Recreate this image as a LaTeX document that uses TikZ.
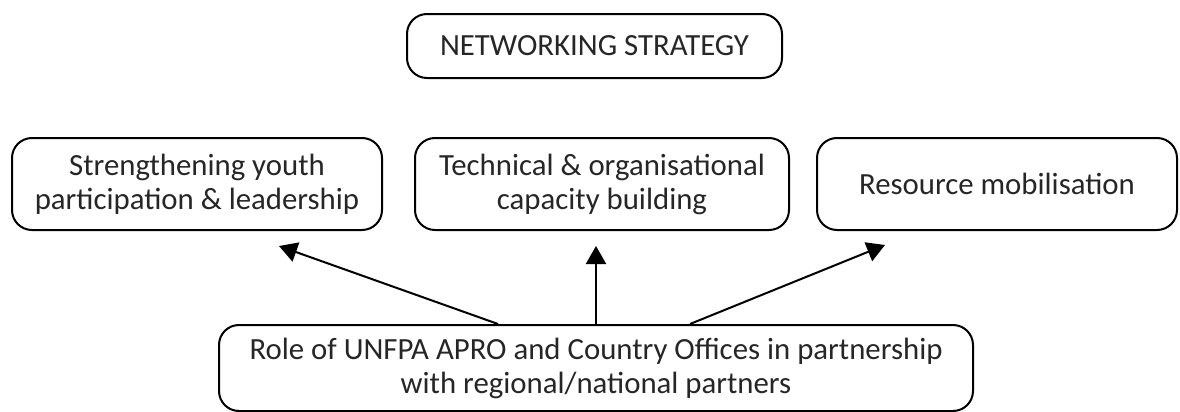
\documentclass[tikz,border=0pt]{standalone}
\usepackage{fontspec}
\setmainfont{Carlito}
\usepackage{xcolor}
\usetikzlibrary{arrows.meta}
\usetikzlibrary{calc}

\begin{document}
\begin{tikzpicture}[
        x=0.5pt, y=-0.5pt, % un pixel de la figura original
        font=\fontsize{15.4}{17}\selectfont,
        box/.style={draw, line width=1pt, rounded corners=10pt, align=center,
                    text=black!85, inner sep=0pt}, % Estilo para las cajas
        arrow/.style={-{Triangle[width=10pt,length=9pt]}, line width=1pt} % Estilo para las flechas
    ]
        % --- Marco de la figura ---
        \useasboundingbox (0,0) rectangle (1180,412);

        % --- Caja superior ---
        \node[box, minimum width=187.5pt, minimum height=32pt] (net) at (594.5,46) {NETWORKING STRATEGY};

        % --- Fila de cajas ---
        \node[box, minimum width=185pt, minimum height=46pt] (yth) at (197,184)
            {Strengthening youth\\participation \& leadership};
        \node[box, minimum width=187pt, minimum height=46pt] (cap) at (602,184)
            {Technical \& organisational\\capacity building};
        \node[box, minimum width=180pt, minimum height=46pt] (res) at (997,184)
            {Resource mobilisation};

        % --- Caja inferior ---
        \node[box, minimum width=377pt, minimum height=43pt] (role) at (596,368)
            {Role of UNFPA APRO and Country Offices in partnership\\with regional/national partners};

        % --- Flechas ---
        \coordinate (ythTip) at ($(yth.south)+(82,15)$);
        \coordinate (capTip) at ($(cap.south)+(-6,15)$);
        \coordinate (resTip) at ($(res.south)+(-112,14)$);
        \draw[arrow] ($(role.north)+(-98,0)$) -- (ythTip);
        \draw[arrow] ($(role.north)+(0,0)$) -- (capTip);
        \draw[arrow] ($(role.north)+(94,0)$) -- (resTip);

    \end{tikzpicture}
\end{document}
